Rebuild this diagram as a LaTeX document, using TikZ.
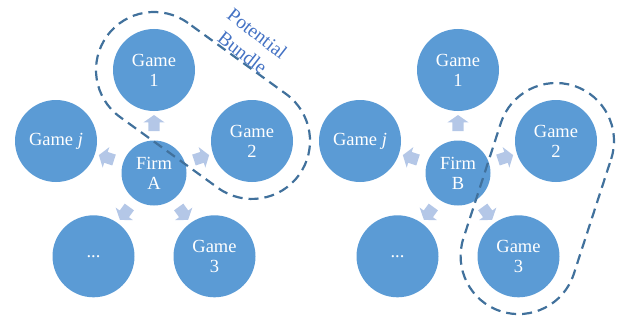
\documentclass[tikz,border=0pt]{standalone}
\usepackage{fontspec}
\setmainfont{Liberation Serif}
\usetikzlibrary{shapes.arrows}
\definecolor{gamefill}{HTML}{5B9BD5}
\definecolor{spokefill}{HTML}{B4C7E7}
\definecolor{bundleline}{HTML}{41719C}
\definecolor{bundletext}{HTML}{4472C4}
\begin{document}
\begin{tikzpicture}[x=1pt,y=1pt,
	game/.style={circle,fill=gamefill,text=white,minimum size=82pt,inner sep=0pt,align=center,font=\fontsize{18.5}{20}\selectfont},
	firm/.style={game,minimum size=65pt},
	spoke/.style={single arrow,fill=spokefill,minimum height=16pt,inner xsep=0pt,inner ysep=5.5pt,single arrow head extend=5pt,single arrow tip angle=110},
	bundle/.style={bundleline,line width=2.2pt,dash pattern=on 10pt off 6pt}]
		\useasboundingbox (0,0) rectangle (618,322);
		\node[firm] (fa) at (154,149) {Firm\\A};
		\node[game] (a1) at (154,252) {Game\\1};
		\node[game] (aj) at (56,181) {Game \textit{j}};
		\node[game] (a2) at (252,181) {Game\\2};
		\node[game] (ad) at (93.5,65.7) {...};
		\node[game] (a3) at (214.5,65.7) {Game\\3};
		\node[firm] (fb) at (458,149) {Firm\\B};
		\node[game] (b1) at (458,252) {Game\\1};
		\node[game] (bj) at (360,181) {Game \textit{j}};
		\node[game] (b2) at (556,181) {Game\\2};
		\node[game] (bd) at (397.5,65.7) {...};
		\node[game] (b3) at (518.5,65.7) {Game\\3};
		\foreach \f in {fa,fb}
			\foreach \ang in {90,162,18,234,306}
				\node[spoke,rotate=\ang] (\f-\ang) at ([shift={(\ang:48)}]\f) {};
		\begin{scope}[shift={(a1)},rotate=-35.9]
			\draw[bundle] (0,58) arc[start angle=90,end angle=270,radius=58] -- (121,-58) arc[start angle=-90,end angle=90,radius=58] -- cycle;
		\end{scope}
		\begin{scope}[shift={(b2)},rotate=-108]
			\draw[bundle] (0,58) arc[start angle=90,end angle=270,radius=58] -- (121,-58) arc[start angle=-90,end angle=90,radius=58] -- cycle;
		\end{scope}
		\node[text=bundletext,align=center,rotate=-38,font=\fontsize{19.5}{24}\selectfont] (lbl) at (250,279) {Potential\\Bundle};
\end{tikzpicture}
\end{document}
